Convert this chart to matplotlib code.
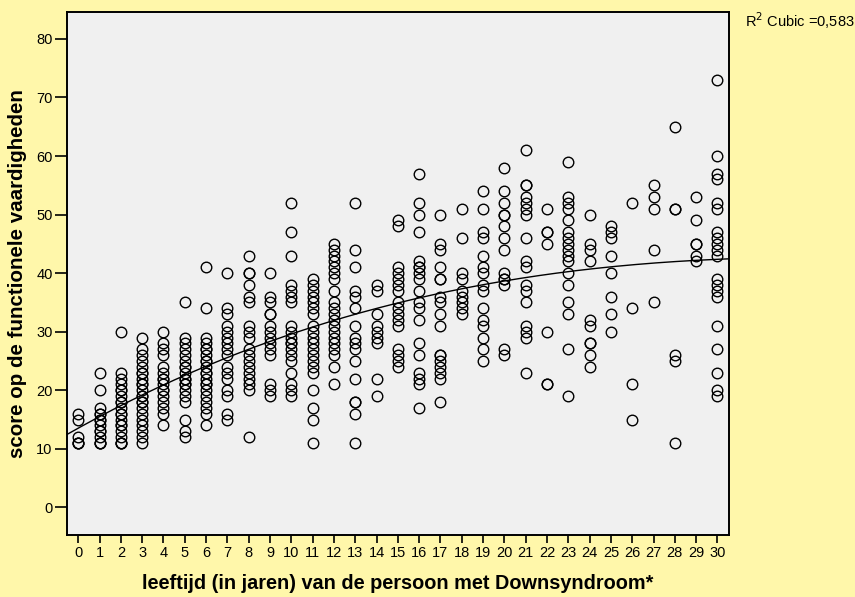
import numpy as np
from matplotlib import pyplot as plt

# score per age (0..30)
scores = {
    0: [16, 15, 12, 11, 11, 11],
    1: [23, 20, 17, 16, 16, 15, 15, 14, 13, 13, 12, 11, 11, 11],
    2: [30, 23, 22, 21, 20, 20, 19, 18, 18, 17, 16, 16, 15, 14, 14, 13, 12, 11, 11, 11],
    3: [29, 27, 26, 25, 24, 23, 23, 22, 21, 21, 20, 19, 19, 18, 18, 17, 16, 15, 14, 13, 12, 11],
    4: [30, 28, 27, 26, 24, 23, 22, 22, 21, 20, 20, 19, 18, 17, 16, 14],
    5: [35, 29, 28, 27, 26, 25, 24, 24, 23, 22, 22, 21, 21, 20, 19, 18, 15, 13, 12],
    6: [41, 34, 29, 28, 27, 27, 26, 25, 25, 24, 23, 23, 22, 21, 21, 20, 19, 18, 17, 16, 14],
    7: [40, 34, 33, 31, 30, 29, 28, 27, 26, 24, 23, 22, 20, 19, 16, 15],
    8: [43, 40, 40, 38, 36, 35, 31, 30, 29, 27, 26, 25, 24, 23, 22, 21, 20, 12],
    9: [40, 36, 35, 33, 33, 31, 30, 29, 28, 27, 26, 21, 20, 19],
    10: [52, 47, 43, 38, 37, 36, 35, 31, 30, 29, 28, 28, 27, 26, 25, 23, 21, 20, 19],
    11: [39, 38, 37, 36, 35, 34, 33, 31, 30, 29, 28, 27, 26, 25, 24, 23, 20, 17, 15, 11],
    12: [45, 44, 43, 42, 41, 40, 39, 37, 35, 34, 33, 32, 31, 30, 29, 28, 27, 26, 24, 21],
    13: [52, 44, 41, 37, 36, 34, 31, 29, 28, 27, 25, 22, 18, 18, 16, 11],
    14: [38, 37, 33, 31, 30, 29, 28, 22, 19],
    15: [49, 48, 41, 40, 39, 38, 37, 35, 34, 33, 32, 31, 27, 26, 25, 24],
    16: [57, 52, 50, 47, 42, 41, 41, 40, 39, 37, 35, 34, 32, 28, 26, 23, 22, 21, 17],
    17: [50, 45, 44, 41, 39, 39, 36, 35, 33, 31, 26, 26, 25, 24, 23, 22, 18],
    18: [51, 46, 40, 39, 37, 36, 35, 34, 33],
    19: [54, 51, 47, 46, 43, 41, 40, 38, 37, 34, 32, 31, 29, 27, 25],
    20: [58, 54, 52, 50, 50, 48, 46, 44, 40, 39, 39, 38, 27, 26],
    21: [61, 55, 55, 53, 52, 51, 50, 46, 42, 41, 38, 37, 35, 31, 30, 29, 23],
    22: [51, 47, 47, 45, 30, 21, 21],
    23: [59, 53, 52, 51, 49, 47, 46, 45, 44, 43, 42, 40, 38, 35, 33, 27, 19],
    24: [50, 45, 44, 42, 32, 31, 28, 28, 26, 24],
    25: [48, 47, 46, 43, 40, 36, 33, 30],
    26: [52, 34, 21, 15],
    27: [55, 53, 51, 44, 35],
    28: [65, 51, 51, 26, 25, 11],
    29: [53, 49, 45, 45, 43, 42],
    30: [73, 60, 57, 56, 52, 51, 47, 46, 45, 44, 43, 39, 38, 37, 36, 31, 27, 23, 20, 19],
}
age_ticks = list(range(0, 31))
score_ticks = list(range(0, 81, 10))
r2_text = "R$^2$ Cubic =0,583"

ages = np.concatenate([[a] * len(v) for a, v in scores.items()])
vals = np.concatenate(list(scores.values()))

plt.rcParams["font.family"] = ["Liberation Sans Narrow", "Liberation Sans", "DejaVu Sans"]

fig = plt.figure(figsize=(8.55, 5.97), dpi=100, facecolor="#fff7aa")
ax = fig.add_axes([0.0778, 0.104, 0.775, 0.876])
ax.set_facecolor("#f0f0f0")

ax.plot(ages, vals, "o", mfc="none", mec="black", ms=7.6, mew=1.0)

# cubic fit
coef = np.polyfit(ages, vals, 3)
xs = np.linspace(-0.55, 30.55, 300)
ax.plot(xs, np.polyval(coef, xs), color="black", lw=1.0)

ax.set_xlim(-0.55, 30.55)
ax.set_ylim(-4.7, 84.6)
ax.set_xticks(age_ticks)
ax.set_yticks(score_ticks)
ax.tick_params(axis="both", direction="out", width=1.2, labelsize=10.5, pad=2)
ax.tick_params(axis="x", length=6)
ax.tick_params(axis="y", length=9, pad=1)
for s in ax.spines.values():
    s.set_linewidth(1.4)

ax.set_xlabel("leeftijd (in jaren) van de persoon met Downsyndroom*",
              fontsize=14.3, fontweight="bold", family=["Liberation Sans", "DejaVu Sans"])
ax.set_ylabel("score op de functionele vaardigheden",
              fontsize=14.8, fontweight="bold", family=["Liberation Sans", "DejaVu Sans"])
ax.xaxis.set_label_coords(0.5, -0.075)
ax.yaxis.set_label_coords(-0.06, 0.5)

fig.text(0.871, 0.966, r2_text, fontsize=10.5, va="center", ha="left")

fig.savefig("out.png", dpi=100, facecolor=fig.get_facecolor())
